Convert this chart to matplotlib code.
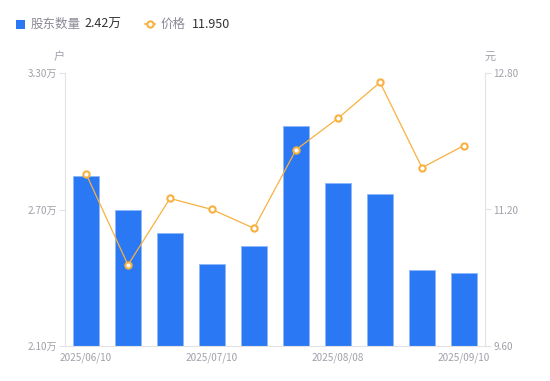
import matplotlib
matplotlib.use("Agg")
import matplotlib.pyplot as plt
from matplotlib.patches import Rectangle
from matplotlib.lines import Line2D

plt.rcParams['font.family'] = ['Noto Sans CJK SC', 'DejaVu Sans']

dates = ["2025/06/10", "2025/06/20", "2025/06/30", "2025/07/10", "2025/07/20",
         "2025/07/31", "2025/08/08", "2025/08/20", "2025/08/31", "2025/09/10"]
holders = [2.847, 2.698, 2.597, 2.460, 2.540, 3.067, 2.816, 2.768, 2.432, 2.420]  # 万户
price = [11.62, 10.55, 11.33, 11.20, 10.98, 11.90, 12.27, 12.69, 11.69, 11.95]
left_ticks = [2.10, 2.70, 3.30]
right_ticks = [9.60, 11.20, 12.80]

W, H = 550, 381
fig = plt.figure(figsize=(W / 100, H / 100), dpi=100)
ax = fig.add_axes([65 / W, 35 / H, 420 / W, 273 / H])
ax2 = ax.twinx()

bar_c = '#2a78f4'
line_c = '#f8b13f'
axis_c = '#e3e3e6'
txt_c = '#a0a0aa'

x = list(range(len(dates)))
ax.bar(x, holders, width=0.6, color=bar_c, edgecolor='#8db8fa', linewidth=0.6, zorder=2)
ax.set_xlim(-0.5, len(dates) - 0.5)
ax.set_ylim(left_ticks[0], left_ticks[-1])
ax.set_yticks(left_ticks)
ax.set_yticklabels([f"{v:.2f}万" for v in left_ticks])

ax2.plot(x, price, color=line_c, linewidth=0.9, marker='o', markersize=4.5,
         markerfacecolor='white', markeredgecolor=line_c, markeredgewidth=1.5, zorder=3)
ax2.set_ylim(right_ticks[0], right_ticks[-1])
ax2.set_yticks(right_ticks)
ax2.set_yticklabels([f"{v:.2f}" for v in right_ticks])

ax.set_xticks(x[::3])
ax.set_xticklabels(dates[::3])

for a in (ax, ax2):
    a.spines['top'].set_visible(False)
    a.spines['left'].set_color(axis_c)
    a.spines['right'].set_color(axis_c)
    a.spines['bottom'].set_color(axis_c)
ax.spines['right'].set_visible(False)
ax2.spines['left'].set_visible(False)
ax2.spines['bottom'].set_visible(False)

ax.tick_params(axis='y', colors=axis_c, labelcolor=txt_c, labelsize=7.2, length=4, width=0.8, pad=2)
ax2.tick_params(axis='y', colors=axis_c, labelcolor=txt_c, labelsize=7.2, length=4, width=0.8, pad=2)
ax.tick_params(axis='x', length=0, labelcolor=txt_c, labelsize=7.2, pad=5)

# unit labels
fig.text(59 / W, 1 - 57 / H, "户", color=txt_c, fontsize=8, ha='center', va='center')
fig.text(490 / W, 1 - 57 / H, "元", color=txt_c, fontsize=8, ha='center', va='center')

# legend
fig.patches.append(Rectangle((16 / W, 1 - 29 / H), 9 / W, 9 / H, transform=fig.transFigure,
                             facecolor=bar_c, edgecolor='none'))
fig.text(31 / W, 1 - 24 / H, "股东数量", color='#8a8a96', fontsize=9, va='center')
fig.text(84 / W, 1 - 24 / H, f"{holders[-1]:.2f}万", color='#333333', fontsize=9, va='center')
fig.lines.append(Line2D([145 / W, 155 / W], [1 - 24 / H, 1 - 24 / H], transform=fig.transFigure,
                        color=line_c, linewidth=1.2))
fig.lines.append(Line2D([150 / W], [1 - 24 / H], transform=fig.transFigure, marker='o',
                        markersize=4.5, markerfacecolor='white', markeredgecolor=line_c,
                        markeredgewidth=1.5, linestyle='none'))
fig.text(161 / W, 1 - 24 / H, "价格", color='#8a8a96', fontsize=9, va='center')
fig.text(192 / W, 1 - 24 / H, f"{price[-1]:.3f}", color='#333333', fontsize=9, va='center')

fig.savefig("out.png", dpi=100)
